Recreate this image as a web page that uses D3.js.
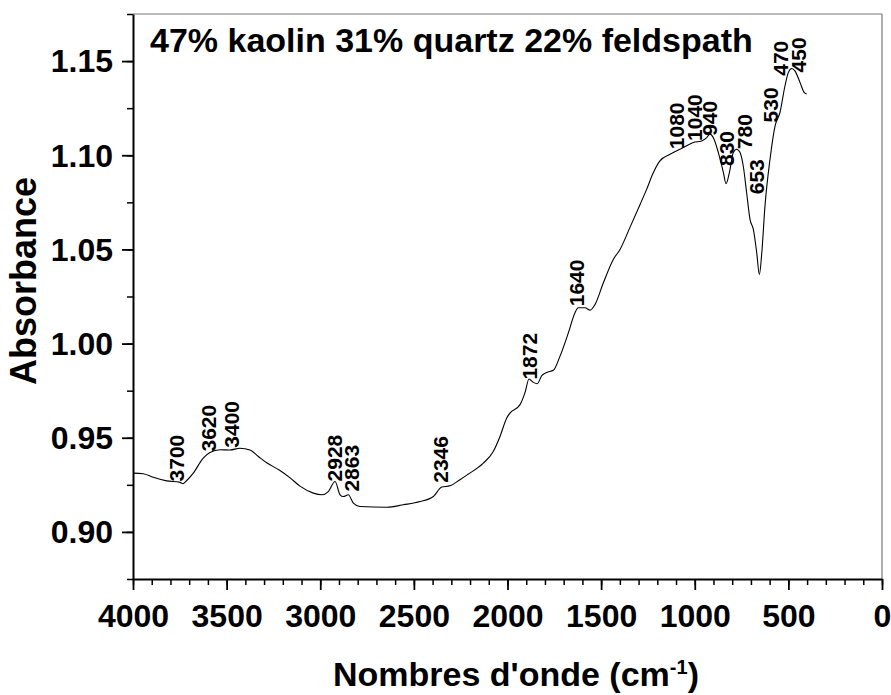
<!DOCTYPE html>
<html>
<head>
<meta charset="utf-8">
<script src="https://cdn.jsdelivr.net/npm/d3@7"></script>
<style>
  html, body { margin: 0; padding: 0; background: #fff; }
  svg { display: block; font-family: "Liberation Sans", Arial, sans-serif; }
</style>
</head>
<body>
<svg id="chart" width="891" height="695"></svg>
<script>
// ---- data ----
const wavenumbers = [4000,3945,3892,3820,3749,3733,3717,3678,3625,3589,3535,3482,3429,3375,3332,3286,3215,3161,3108,3037,2992,2957,2921,2894,2877,2850,2823,2788,2645,2556,2467,2396,2351,2307,2254,2211,2129,2076,2040,2004,1987,1933,1907,1885,1862,1841,1817,1791,1755,1720,1675,1640,1622,1586,1559,1533,1488,1435,1399,1346,1292,1257,1221,1186,1132,1061,1008,963,936,919,897,874,847,833,815,794,776,758,741,723,705,687,669,655,642,625,598,571,545,518,500,482,465,438,416,402];
const absorbance = [0.9312,0.9309,0.9290,0.9271,0.9263,0.9256,0.9269,0.9312,0.9392,0.9422,0.9436,0.9435,0.9444,0.9435,0.9402,0.9367,0.9326,0.9287,0.9243,0.9206,0.9197,0.9214,0.9268,0.9197,0.9188,0.9197,0.9153,0.9135,0.9131,0.9144,0.9161,0.9188,0.9238,0.9245,0.9277,0.9306,0.9365,0.9427,0.9507,0.9605,0.9631,0.9676,0.9738,0.9812,0.9794,0.9787,0.9830,0.9847,0.9858,0.9932,1.0057,1.0163,1.0190,1.0190,1.0177,1.0207,1.0323,1.0447,1.0500,1.0617,1.0739,1.0819,1.0908,1.0970,1.1005,1.1041,1.1068,1.1076,1.1094,1.1112,1.1085,1.1014,1.0908,1.0849,1.0908,1.1014,1.1032,1.1014,1.0943,1.0802,1.0660,1.0606,1.0482,1.0367,1.0482,1.0730,1.0979,1.1156,1.1227,1.1369,1.1440,1.1461,1.1448,1.1387,1.1334,1.1325];

const peakLabels   = ["3700","3620","3400","2928","2863","2346","1872","1640","1080","1040","940","830","780","653","530","470","450"];
const peakLabelWave = [3767,3599,3473,2925,2834,2360,1885,1630,1096,999,919,829,732,669,598,545,447];
const peakLabelAbs  = [0.9268,0.9427,0.9447,0.9268,0.9214,0.9261,0.9809,1.0198,1.1032,1.1076,1.1103,1.0943,1.1032,1.0793,1.1174,1.1422,1.1440];

const xTicks = [4000,3500,3000,2500,2000,1500,1000,500,0];
const yTicks = [0.90,0.95,1.00,1.05,1.10,1.15];
const xMinorTicks = d3.range(0, 4001, 100);
const yMinorTicks = [0.875,0.90,0.925,0.95,0.975,1.00,1.025,1.05,1.075,1.10,1.125,1.15,1.175];

const titleText = "47% kaolin 31% quartz 22% feldspath";
const yTitle = "Absorbance";

// ---- layout ----
const mLeft = 133, mRight = 882, mTop = 14, mBottom = 579;
const svg = d3.select("#chart");

const x = d3.scaleLinear().domain([4000, 0]).range([mLeft, mRight]);
const y = d3.scaleLinear().domain([0.875, 1.175]).range([mBottom, mTop]);

// frame (top/right gray)
svg.append("line").attr("x1", mLeft).attr("x2", mRight).attr("y1", mTop).attr("y2", mTop)
  .attr("stroke", "#777").attr("stroke-width", 1.2);
svg.append("line").attr("x1", mRight).attr("x2", mRight).attr("y1", mTop).attr("y2", mBottom)
  .attr("stroke", "#777").attr("stroke-width", 1.2);

// minor ticks
svg.append("g").attr("transform", `translate(0,${mBottom})`)
  .call(d3.axisBottom(x).tickValues(xMinorTicks).tickSize(6).tickFormat(""))
  .call(g => g.select(".domain").remove())
  .call(g => g.selectAll("line").attr("stroke", "#000").attr("stroke-width", 1.5));
svg.append("g").attr("transform", `translate(${mLeft},0)`)
  .call(d3.axisLeft(y).tickValues(yMinorTicks).tickSize(6).tickFormat(""))
  .call(g => g.select(".domain").remove())
  .call(g => g.selectAll("line").attr("stroke", "#000").attr("stroke-width", 1.5));

// major axes
const xAxis = svg.append("g").attr("transform", `translate(0,${mBottom})`)
  .call(d3.axisBottom(x).tickValues(xTicks).tickSize(11).tickSizeOuter(0).tickPadding(14).tickFormat(d3.format("d")));
const yAxis = svg.append("g").attr("transform", `translate(${mLeft},0)`)
  .call(d3.axisLeft(y).tickValues(yTicks).tickSize(11).tickSizeOuter(0).tickPadding(9).tickFormat(d3.format(".2f")));

[xAxis, yAxis].forEach(g => {
  g.select(".domain").attr("stroke", "#000").attr("stroke-width", 2);
  g.selectAll(".tick line").attr("stroke", "#000").attr("stroke-width", 1.8);
  g.selectAll(".tick text").attr("fill", "#000")
    .style("font-family", '"Liberation Sans", Arial, sans-serif')
    .style("font-weight", "bold").style("font-size", "32px");
});
xAxis.selectAll(".tick text").attr("dy", "0.71em");
yAxis.selectAll(".tick text").attr("dy", "0.34em");

// curve
const line = d3.line()
  .x((d, i) => x(wavenumbers[i]))
  .y((d, i) => y(absorbance[i]))
  .curve(d3.curveMonotoneX);
svg.append("path").datum(absorbance).attr("d", line)
  .attr("fill", "none").attr("stroke", "#000").attr("stroke-width", 1.1);

// peak labels
svg.append("g").selectAll("text").data(peakLabels).join("text")
  .attr("transform", (d, i) => `translate(${x(peakLabelWave[i])},${y(peakLabelAbs[i])}) rotate(-90)`)
  .attr("dy", "0.36em")
  .attr("text-anchor", "start")
  .style("font-weight", "bold").style("font-size", "21px").attr("fill", "#000")
  .text(d => d);

// title inside plot
svg.append("text").attr("x", 150).attr("y", 52)
  .style("font-weight", "bold").style("font-size", "34px").attr("fill", "#000")
  .text(titleText);

// axis titles
svg.append("text")
  .attr("transform", `translate(36,281) rotate(-90)`)
  .attr("text-anchor", "middle")
  .style("font-weight", "bold").style("font-size", "36px").attr("fill", "#000")
  .text(yTitle);

const xt = svg.append("text").attr("x", 516).attr("y", 686).attr("text-anchor", "middle")
  .style("font-weight", "bold").style("font-size", "34px").attr("fill", "#000");
xt.append("tspan").text("Nombres d'onde (cm");
xt.append("tspan").attr("dy", -12).style("font-size", "20px").text("-1");
xt.append("tspan").attr("dy", 12).text(")");
</script>
</body>
</html>
